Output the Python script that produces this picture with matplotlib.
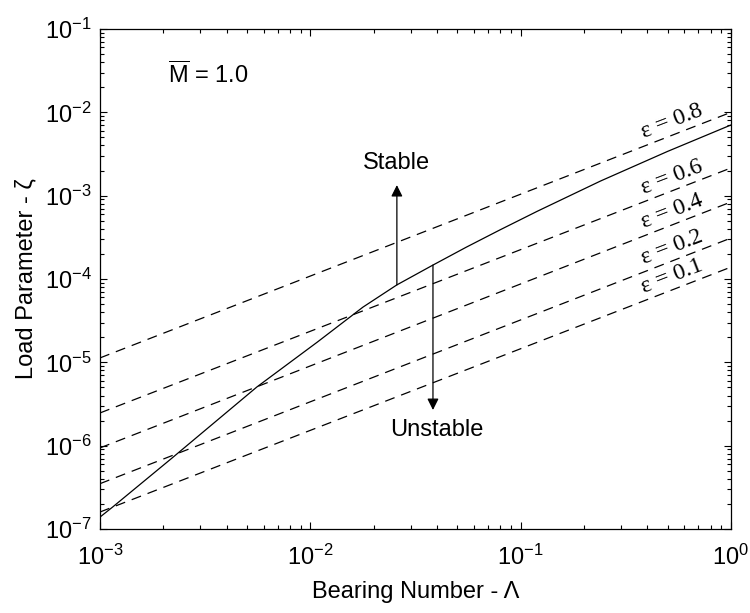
import numpy as np
import matplotlib
matplotlib.use("Agg")
import matplotlib.pyplot as plt
from matplotlib.ticker import LogLocator, FuncFormatter, NullFormatter

plt.rcParams['font.family'] = ['Liberation Sans', 'DejaVu Sans']
plt.rcParams['mathtext.default'] = 'regular'

# stability boundary, M = 1.0
lam_stab = [1.0e-3, 1.15e-3, 2.2e-3, 5.57e-3, 1.08e-2, 1.78e-2, 2.58e-2,
            3.83e-2, 0.055, 0.08, 0.12, 0.24, 0.5, 1.0]
zeta_stab = [1.39e-7, 1.84e-7, 7.1e-7, 5.06e-6, 1.75e-5, 4.6e-5, 8.5e-5,
             1.47e-4, 2.4e-4, 3.9e-4, 6.5e-4, 1.5e-3, 3.4e-3, 7.05e-3]

# constant-eccentricity lines (end values at Lambda = 1e-3 and 1)
eps = [0.8, 0.6, 0.4, 0.2, 0.1]
lam_ends = [1e-3, 1.0]
zeta_left = [1.13e-5, 2.47e-6, 9.4e-7, 3.5e-7, 1.6e-7]
zeta_right = [1.0e-2, 2.15e-3, 8.4e-4, 3.1e-4, 1.39e-4]

x_ticks = [1e-3, 1e-2, 1e-1, 1e0]
y_ticks = [1e-7, 1e-6, 1e-5, 1e-4, 1e-3, 1e-2, 1e-1]

lam_label = 0.524
lam_up, zeta_up_tip = 0.0258, 1.34e-3
lam_down, zeta_down_tip = 0.0383, 2.68e-6


def stab_at(lam):
    return 10 ** np.interp(np.log10(lam), np.log10(lam_stab), np.log10(zeta_stab))


fig = plt.figure(figsize=(7.5, 6.13), dpi=100)
ax = fig.add_axes([0.1333, 0.137, 0.8413, 0.8157])

ax.loglog(lam_stab, zeta_stab, color='black', lw=0.9)

for e, zl, zr in zip(eps, zeta_left, zeta_right):
    ax.loglog(lam_ends, [zl, zr], color='black', lw=0.9, dashes=(8, 5.6))
    zlab = 10 ** np.interp(np.log10(lam_label), np.log10(lam_ends),
                           np.log10([zl, zr]))
    ax.annotate('ε = %.1f' % e, xy=(lam_label, zlab), xytext=(0, 10),
                textcoords='offset points', ha='center', va='center',
                rotation=21, rotation_mode='anchor',
                family='Liberation Serif', fontsize=17)

# stable / unstable arrows starting on the boundary
arrow = dict(arrowstyle='-|>', color='black', lw=0.9, mutation_scale=17,
             shrinkA=0, shrinkB=0)
ax.annotate('', xy=(lam_up, zeta_up_tip), xytext=(lam_up, stab_at(lam_up)),
            arrowprops=arrow)
ax.annotate('', xy=(lam_down, zeta_down_tip),
            xytext=(lam_down, stab_at(lam_down)), arrowprops=arrow)
ax.text(lam_up, 2.47e-3, 'Stable', ha='center', va='center', fontsize=17)
ax.text(0.04, 1.54e-6, 'Unstable', ha='center', va='center', fontsize=17)

ax.text(0.171, 0.908, r'$\overline{M}$ = 1.0', transform=ax.transAxes,
        ha='center', va='center', fontsize=17)

ax.set_xlim(x_ticks[0], x_ticks[-1])
ax.set_ylim(y_ticks[0], y_ticks[-1])

fmt = FuncFormatter(lambda v, p: r'$10^{%d}$' % round(np.log10(v)))
ax.set_xticks(x_ticks)
ax.set_yticks(y_ticks)
for axis in (ax.xaxis, ax.yaxis):
    axis.set_minor_locator(LogLocator(base=10, subs=np.arange(2, 10), numticks=12))
    axis.set_major_formatter(fmt)
    axis.set_minor_formatter(NullFormatter())

ax.tick_params(which='both', direction='in', top=True, right=True,
               labelsize=17, width=0.8)
ax.tick_params(which='major', length=5)
ax.tick_params(which='minor', length=3)
ax.tick_params(axis='x', which='major', pad=11)
ax.tick_params(axis='y', which='major', pad=6)
for s in ax.spines.values():
    s.set_linewidth(0.9)

ax.set_xlabel('Bearing Number - Λ', fontsize=17)
ax.set_ylabel('Load Parameter - ζ', fontsize=17)
ax.xaxis.set_label_coords(0.5, -0.104)
ax.yaxis.set_label_coords(-0.1, 0.5)

fig.savefig('out.png', dpi=100)
